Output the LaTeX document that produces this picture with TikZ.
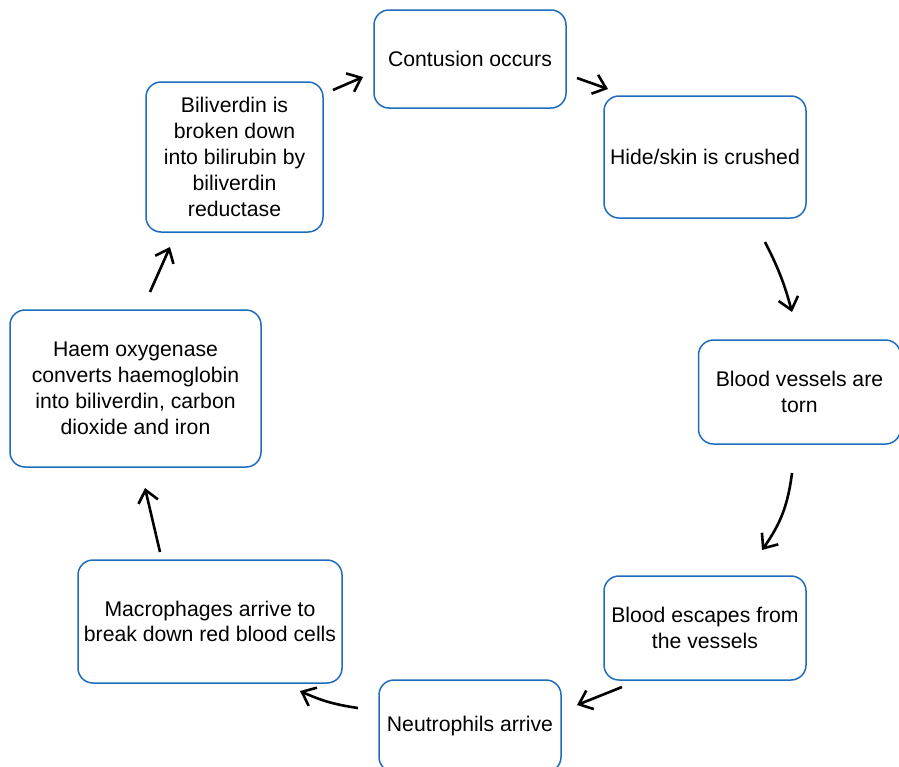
\documentclass[tikz,border=0pt]{standalone}
\usepackage{fontspec}
\setmainfont{Liberation Sans}
\usetikzlibrary{arrows.meta}
\definecolor{boxblue}{RGB}{30,108,190}

\begin{document}
\begin{tikzpicture}[x=0.5pt,y=-0.5pt]
    \tikzstyle{stage}=[draw=boxblue,line width=0.75pt,rounded corners=7.5pt,fill=white,align=center,inner sep=2pt,font=\fontsize{10.6}{12.9}\selectfont]
    \tikzstyle{flow}=[-{Straight Barb[length=6pt,width=10pt]},line width=1.3pt]
    \useasboundingbox (0,0) rectangle (899,766);

    \node[stage,minimum width=96pt,minimum height=49pt] (contusion) at (470,59) {Contusion occurs};
    \node[stage,minimum width=101pt,minimum height=61pt] (hide) at (705,157) {Hide/skin is crushed};
    \node[stage,minimum width=101pt,minimum height=52pt] (vessels) at (799.5,392) {Blood vessels are\\torn};
    \node[stage,minimum width=101pt,minimum height=52pt] (escapes) at (705,628) {Blood escapes from\\the vessels};
    \node[stage,minimum width=91pt,minimum height=46pt] (neutrophils) at (470,726) {Neutrophils arrive};
    \node[stage,minimum width=132pt,minimum height=61.5pt] (macrophages) at (210,621.5) {Macrophages arrive to\\break down red blood cells};
    \node[stage,minimum width=125.5pt,minimum height=78.5pt] (haem) at (135.5,388.5) {Haem oxygenase\\converts haemoglobin\\into biliverdin, carbon\\dioxide and iron};
    \node[stage,minimum width=88.5pt,minimum height=75pt] (biliverdin) at (234.5,157) {Biliverdin is\\broken down\\into bilirubin by\\biliverdin\\reductase};

    % arrows sit in the gaps between the boxes
    \foreach \n/\sx/\sy/\ex/\ey/\b in {1/333/90/363/77/0, 2/577/78/608/89/0,
            3/765/242/792/312/6, 4/792/473/762/550/14, 5/622/687/577/705/0,
            6/358/708/300/691/8, 7/160/552/145/488/0, 8/150/292/170/247/0}
    {
        \coordinate (a-\n-s) at (\sx,\sy);
        \coordinate (a-\n-e) at (\ex,\ey);
        \draw[flow] (a-\n-s) to[bend left=\b] (a-\n-e);
    }
\end{tikzpicture}
\end{document}
